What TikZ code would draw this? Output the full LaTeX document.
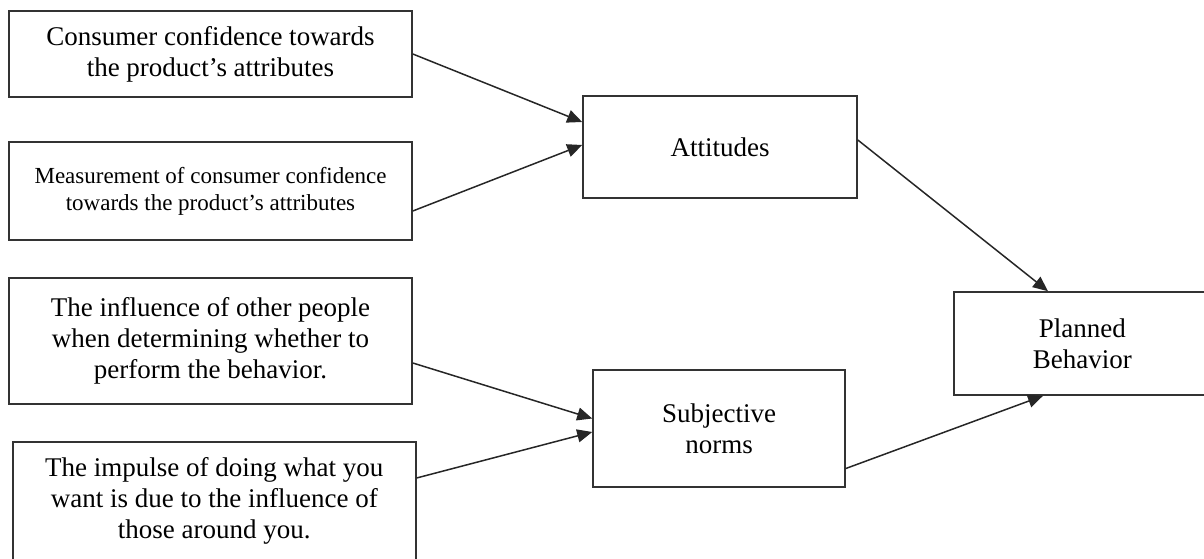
\documentclass[tikz,border=0pt]{standalone}
\usepackage{fontspec}
\setmainfont{Liberation Serif}
\usetikzlibrary{arrows.meta}
\begin{document}
\begin{tikzpicture}[x=1pt,y=-1pt]
	\tikzstyle{every node}+=[inner sep=0pt]
	\tikzstyle{box}=[draw=black!80, line width=1.6pt, align=center, font=\fontsize{27}{31}\selectfont]
	\tikzstyle{link}=[draw=black!85, line width=1.5pt, -{Triangle[length=15pt,width=13pt]}]
	\clip (0,0) rectangle (1204,559);
	% left column
	\node [box, minimum width=403, minimum height=86] (conf) at (210.5,54) {Consumer confidence towards\\the product's attributes};
	\node [box, minimum width=403, minimum height=98, font=\fontsize{23}{27}\selectfont] (meas) at (210.5,191) {Measurement of consumer confidence\\towards the product's attributes};
	\node [box, minimum width=403, minimum height=126] (infl) at (210.5,341) {The influence of other people\\when determining whether to\\perform the behavior.};
	\node [box, minimum width=403, anchor=north west, inner ysep=16pt, text depth=100pt] (imp) at (12,441) {The impulse of doing what you\\want is due to the influence of\\those around you.};
	% middle and right
	\node [box, minimum width=274, minimum height=102] (att) at (720,147) {Attitudes};
	\node [box, minimum width=252, minimum height=117] (norm) at (719,428.5) {Subjective\\norms};
	\node [box, minimum width=257, minimum height=103, anchor=west] (plan) at (953,343.5) {Planned\\Behavior};
	% connectors
	\draw [link] (conf.east) -- ([yshift=25pt]att.west);
	\draw [link] ([yshift=-20pt]meas.east) -- ([yshift=2pt]att.west);
	\draw [link] ([yshift=-22pt]infl.east) -- ([yshift=10pt]norm.west);
	\draw [link] ([yshift=-37pt]imp.north east) -- ([yshift=-3.5pt]norm.west);
	\draw [link] ([yshift=7pt]att.east) -- ([xshift=95pt]plan.north west);
	\draw [link] ([yshift=-40pt]norm.east) -- ([xshift=90pt]plan.south west);
\end{tikzpicture}
\end{document}
